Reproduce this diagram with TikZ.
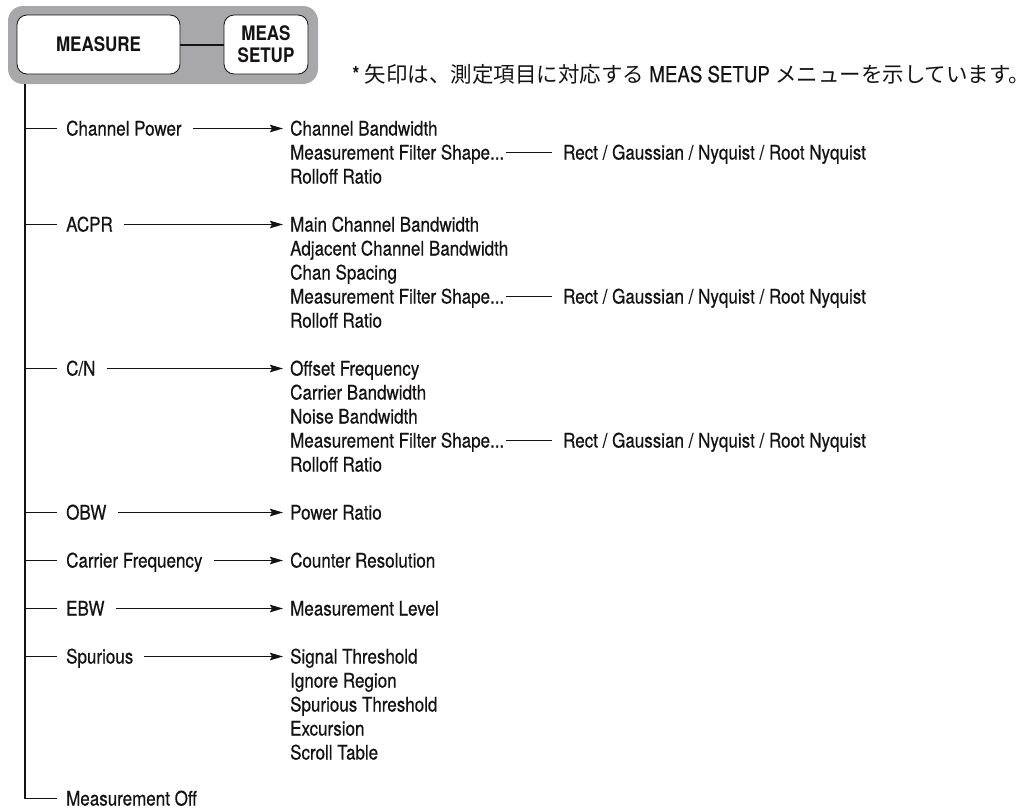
\documentclass[tikz,border=0pt]{standalone}
\usepackage{fontspec}
\setmainfont{TeX Gyre Heros}[FakeStretch=0.85, UprightFeatures={FakeBold=0.5}]
\newfontfamily\jp{Noto Sans CJK JP}
\usetikzlibrary{arrows.meta}
\definecolor{ink}{rgb}{0.08,0.07,0.07}
\definecolor{panel}{rgb}{0.66,0.66,0.67}
\tikzset{
  item/.style={anchor=west, inner sep=0pt, text height=14pt, text depth=0pt,
    font=\fontsize{20}{24}\selectfont, text=ink},
  tick/.style={draw=ink, line width=0.9pt},
  trunk/.style={draw=ink, line width=1.3pt},
  arr/.style={draw=ink, line width=1.4pt, shorten <=11pt, shorten >=7pt,
    -{Stealth[length=13pt,width=7.5pt,inset=2pt]}},
  btn/.style={draw=ink, fill=white, line width=0.8pt, rounded corners=10pt,
    minimum height=59pt, inner sep=0pt, align=center, text=ink,
    font=\bfseries\fontsize{20}{22}\selectfont},
  opt/.style={tick, shorten <=2pt, shorten >=11pt}
}
\begin{document}
\begin{tikzpicture}[x=1pt,y=-1pt]
\useasboundingbox (0,0) rectangle (1033,809);
% header panel
\fill[panel, rounded corners=15pt] (8,6) rectangle (318,84);
\node[btn, minimum width=163pt] (measure) at (98.5,44.5) {MEASURE};
\node[btn, minimum width=84pt] (setup) at (266,44.5) {MEAS\\SETUP};
\draw[draw=ink, line width=2pt] (measure.east) -- (setup.west);
\node[anchor=west, inner sep=0pt, text=ink, font=\fontsize{22}{24}\selectfont] (note) at (352,74)
  {* {\jp\fontsize{21.5}{24}\selectfont 矢印は、測定項目に対応する} MEAS SETUP {\jp\fontsize{21.5}{24}\selectfont メニューを示しています。}};
\coordinate (trunktop) at (25,84);
% top-level items
\node[item] (cp) at (66,128.5) {Channel Power};
\node[item] (acpr) at (66,224.5) {ACPR};
\node[item] (cn) at (66,368.5) {C/N};
\node[item] (obw) at (66,512.5) {OBW};
\node[item] (cf) at (66,560.5) {Carrier Frequency};
\node[item] (ebw) at (66,608.5) {EBW};
\node[item] (spur) at (66,656.5) {Spurious};
\node[item] (moff) at (66,798.5) {Measurement Off};
% trunk and ticks
\draw[trunk] (trunktop) -- (trunktop |- moff.west);
\foreach \n in {cp,acpr,cn,obw,cf,ebw,spur,moff}
  \draw[tick, shorten <=9pt] (\n.west) -- (\n.west -| trunktop);
% setup items
\node[item] (cp1) at (290,128.5) {Channel Bandwidth};
\node[item] (cp2) at (290,152.5) {Measurement Filter Shape...};
\node[item] (cp3) at (290,176.5) {Rolloff Ratio};
\node[item] (ac1) at (290,224.5) {Main Channel Bandwidth};
\node[item] (ac2) at (290,248.5) {Adjacent Channel Bandwidth};
\node[item] (ac3) at (290,272.5) {Chan Spacing};
\node[item] (ac4) at (290,296.5) {Measurement Filter Shape...};
\node[item] (ac5) at (290,320.5) {Rolloff Ratio};
\node[item] (cn1) at (290,368.5) {Offset Frequency};
\node[item] (cn2) at (290,392.5) {Carrier Bandwidth};
\node[item] (cn3) at (290,416.5) {Noise Bandwidth};
\node[item] (cn4) at (290,440.5) {Measurement Filter Shape...};
\node[item] (cn5) at (290,464.5) {Rolloff Ratio};
\node[item] (ob1) at (290,512.5) {Power Ratio};
\node[item] (cf1) at (290,560.5) {Counter Resolution};
\node[item] (eb1) at (290,608.5) {Measurement Level};
\node[item] (sp1) at (290,656.5) {Signal Threshold};
\node[item] (sp2) at (290,680.5) {Ignore Region};
\node[item] (sp3) at (290,704.5) {Spurious Threshold};
\node[item] (sp4) at (290,728.5) {Excursion};
\node[item] (sp5) at (290,752.5) {Scroll Table};
% arrows
\draw[arr] (cp.east) -- (cp1.west);
\draw[arr] (acpr.east) -- (ac1.west);
\draw[arr] (cn.east) -- (cn1.west);
\draw[arr] (obw.east) -- (ob1.west);
\draw[arr] (cf.east) -- (cf1.west);
\draw[arr] (ebw.east) -- (eb1.west);
\draw[arr] (spur.east) -- (sp1.west);
% filter shape options
\node[item] (fs1) at (563,152.5) {Rect / Gaussian / Nyquist / Root Nyquist};
\node[item] (fs2) at (563,296.5) {Rect / Gaussian / Nyquist / Root Nyquist};
\node[item] (fs3) at (563,440.5) {Rect / Gaussian / Nyquist / Root Nyquist};
\draw[opt] (cp2.east) -- (fs1.west);
\draw[opt] (ac4.east) -- (fs2.west);
\draw[opt] (cn4.east) -- (fs3.west);
\end{tikzpicture}
\end{document}
